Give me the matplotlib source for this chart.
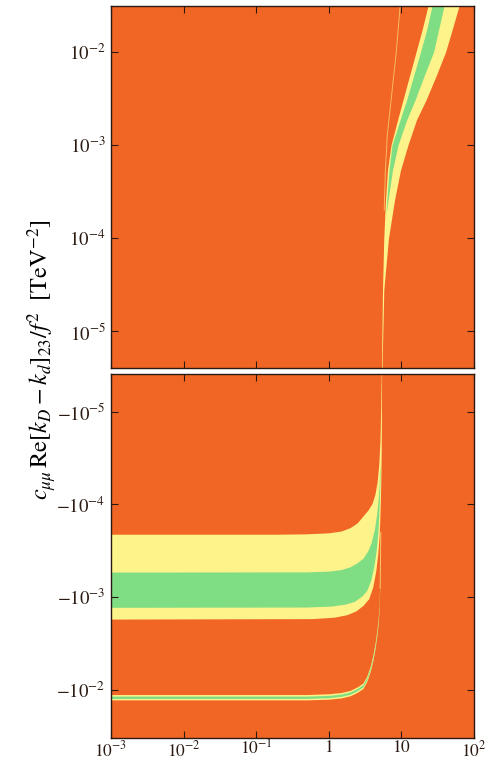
import numpy as np
import matplotlib
matplotlib.use("Agg")
from matplotlib import pyplot as plt

plt.rcParams['font.family'] = 'serif'
plt.rcParams['font.serif'] = ['Liberation Serif', 'DejaVu Serif']
plt.rcParams['mathtext.fontset'] = 'stix'

orange = '#F16624'
yellow = '#FCF38A'
green = '#7FDD84'

# ---- top panel (positive values), band edges read as x at given y ----
top_y = [3.13e-2, 1.72e-2, 1e-2, 5.52e-3, 3.05e-3, 1.86e-3, 1e-3, 5.38e-4, 2.57e-4, 1e-4, 2.76e-5, 4e-6]
top_yel_left = [23.2, 19.2, 15.9, 12.9, 10.5, 8.84, 7.19, 6.43, 6.04, 5.72, 5.49, 5.32]
top_yel_right = [62.1, 49.8, 40.5, 30.0, 21.8, 16.1, 12.3, 9.72, 8.04, 6.64, 5.72, 5.41]

top_grn_y = [3.13e-2, 1.72e-2, 1e-2, 5.52e-3, 3.05e-3, 1.86e-3, 1e-3, 5.38e-4, 2.57e-4, 1.77e-4]
top_grn_left = [26.4, 22.2, 18.3, 14.7, 11.8, 9.57, 7.42, 6.75, 6.29, 6.14]
top_grn_right = [38.6, 32.4, 27.7, 20.5, 15.4, 11.8, 8.98, 7.54, 6.54, 6.14]

top_line_x = [9.6, 8.5, 7.2, 6.4, 6.0, 5.8]
top_line_y = [3.13e-2, 1e-2, 3e-3, 1.3e-3, 5e-4, 2e-4]

# ---- bottom panel (negative values) ----
yb_up_x = [1e-3, 0.2, 0.5, 1.0, 1.5, 2.0, 2.5, 3.0, 3.5, 4.0, 4.4, 4.7, 4.95, 5.15, 5.28, 5.36]
yb_up_y = [-2.12e-4, -2.12e-4, -2.10e-4, -2.05e-4, -1.96e-4, -1.8e-4, -1.6e-4, -1.35e-4,
           -1.17e-4, -9.9e-5, -7.8e-5, -5.8e-5, -3.8e-5, -2.1e-5, -9e-6, -3.9e-6]
yb_lo_x = [5.42, 5.40, 5.36, 5.3, 5.22, 5.12, 5.0, 4.8, 4.5, 4.1, 3.6, 3.0, 2.4, 1.8,
           1.2, 0.6, 1e-3]
yb_lo_y = [-3.9e-6, -1e-5, -2.5e-5, -5e-5, -9e-5, -1.5e-4, -2.3e-4, -3.5e-4, -5.3e-4,
           -7.8e-4, -1.05e-3, -1.24e-3, -1.42e-3, -1.56e-3, -1.66e-3, -1.72e-3, -1.74e-3]

gb_up_x = [1e-3, 0.5, 1.0, 1.5, 2.0, 2.5, 3.0, 3.5, 3.9, 4.3, 4.6, 4.85, 5.0, 5.12]
gb_up_y = [-5.42e-4, -5.4e-4, -5.3e-4, -5.1e-4, -4.75e-4, -4.3e-4, -3.85e-4, -3.2e-4,
           -2.6e-4, -1.9e-4, -1.35e-4, -9e-5, -6.5e-5, -3.8e-5]
gb_lo_x = [5.16, 5.08, 4.98, 4.82, 4.6, 4.3, 3.9, 3.4, 2.9, 2.3, 1.7, 1.1, 0.5, 1e-3]
gb_lo_y = [-4.5e-5, -8e-5, -1.2e-4, -2e-4, -3e-4, -4.4e-4, -6.4e-4, -8.5e-4, -9.8e-4,
           -1.12e-3, -1.2e-3, -1.26e-3, -1.29e-3, -1.3e-3]

# thin band near -1e-2
tb_x = [1e-3, 0.5, 1.0, 1.5, 2.0, 2.5, 3.0, 3.4, 3.8, 4.1, 4.4, 4.65, 4.85, 5.0, 5.1]
tb_yel_up = [-1.13e-2, -1.13e-2, -1.11e-2, -1.075e-2, -1.02e-2, -9.35e-3, -8.5e-3, -7.1e-3,
             -5.52e-3, -4.3e-3, -3.18e-3, -2.34e-3, -1.73e-3, -1.22e-3, -7.5e-4]
tb_yel_lo = [-1.29e-2, -1.29e-2, -1.27e-2, -1.23e-2, -1.165e-2, -1.07e-2, -9.73e-3, -8.12e-3,
             -6.3e-3, -4.92e-3, -3.63e-3, -2.67e-3, -1.98e-3, -1.39e-3, -8.55e-4]
tb_grn_up = [-1.175e-2, -1.175e-2, -1.155e-2, -1.117e-2, -1.058e-2, -9.71e-3, -8.84e-3, -7.38e-3,
             -5.73e-3, -4.47e-3, -3.3e-3, -2.43e-3, -1.8e-3, -1.26e-3, -7.8e-4]
tb_grn_lo = [-1.245e-2, -1.245e-2, -1.225e-2, -1.183e-2, -1.122e-2, -1.029e-2, -9.36e-3, -7.82e-3,
             -6.07e-3, -4.73e-3, -3.5e-3, -2.57e-3, -1.9e-3, -1.34e-3, -8.2e-4]
tail_x = [5.1, 5.15, 5.2]
tail_y = [-8e-4, -4e-4, -2e-4]

xticks = [1e-3, 1e-2, 1e-1, 1, 10, 1e2]
xticklabels = [r'$10^{-3}$', r'$10^{-2}$', r'$10^{-1}$', r'$1$', r'$10$', r'$10^{2}$']
top_yticks = [1e-5, 1e-4, 1e-3, 1e-2]
top_yticklabels = [r'$10^{-5}$', r'$10^{-4}$', r'$10^{-3}$', r'$10^{-2}$']
bot_yticks = [-1e-5, -1e-4, -1e-3, -1e-2]
bot_yticklabels = [r'$-10^{-5}$', r'$-10^{-4}$', r'$-10^{-3}$', r'$-10^{-2}$']


# log scale for negative numbers, -1e-5 on top
def neg_fwd(y):
    y = np.asarray(y, dtype=float)
    return -np.log10(np.maximum(-y, 1e-300))


def neg_inv(u):
    return -10.0 ** (-np.asarray(u, dtype=float))


fig = plt.figure(figsize=(4.87, 7.59), dpi=100)
ax1 = fig.add_axes([111/487, 1-368/759, 363/487, 362/759])
ax2 = fig.add_axes([111/487, 1-738/759, 363/487, 364/759])

for ax in (ax1, ax2):
    ax.set_facecolor(orange)
    ax.set_xscale('log')
    ax.set_xlim(1e-3, 1e2)
    ax.set_xticks(xticks)
    ax.minorticks_off()
    ax.tick_params(direction='in', length=5, width=0.8, top=True, right=True,
                   labelsize=13.5, pad=4, colors='#2a1a12')
    for s in ax.spines.values():
        s.set_linewidth(1.0)
        s.set_color('#2a1a12')

# top panel
ax1.fill_betweenx(top_y, top_yel_left, top_yel_right, color=yellow, lw=0)
ax1.fill_betweenx(top_grn_y, top_grn_left, top_grn_right, color=green, lw=0)
ax1.plot(top_line_x, top_line_y, color=yellow, lw=0.7, alpha=0.6)
ax1.set_yscale('log')
ax1.set_ylim(4e-6, 3.13e-2)
ax1.set_yticks(top_yticks)
ax1.set_yticklabels(top_yticklabels)
ax1.minorticks_off()
ax1.set_xticklabels([])

# bottom panel
ax2.fill(yb_up_x + yb_lo_x, yb_up_y + yb_lo_y, color=yellow, lw=0)
ax2.fill(gb_up_x + gb_lo_x, gb_up_y + gb_lo_y, color=green, lw=0)
ax2.fill(tb_x + tb_x[::-1], tb_yel_up + tb_yel_lo[::-1], color=yellow, lw=0)
ax2.fill(tb_x + tb_x[::-1], tb_grn_up + tb_grn_lo[::-1], color=green, lw=0)
ax2.plot(tail_x, tail_y, color=yellow, lw=0.7, alpha=0.7)
ax2.set_yscale('function', functions=(neg_fwd, neg_inv))
ax2.set_ylim(-3.28e-2, -3.94e-6)
ax2.set_yticks(bot_yticks)
ax2.set_yticklabels(bot_yticklabels)
ax2.minorticks_off()
ax2.set_xticklabels(xticklabels)
ax2.tick_params(axis='x', labelsize=12.5, pad=1.5)

fig.text(42/487, 1-360/759,
         r'$c_{\mu\mu}\,\mathrm{Re}[k_D - k_d]_{23}/f^2\ \ [\mathrm{TeV}^{-2}]$',
         rotation=90, ha='center', va='center', fontsize=17.5)

fig.savefig('out.png', dpi=100)
